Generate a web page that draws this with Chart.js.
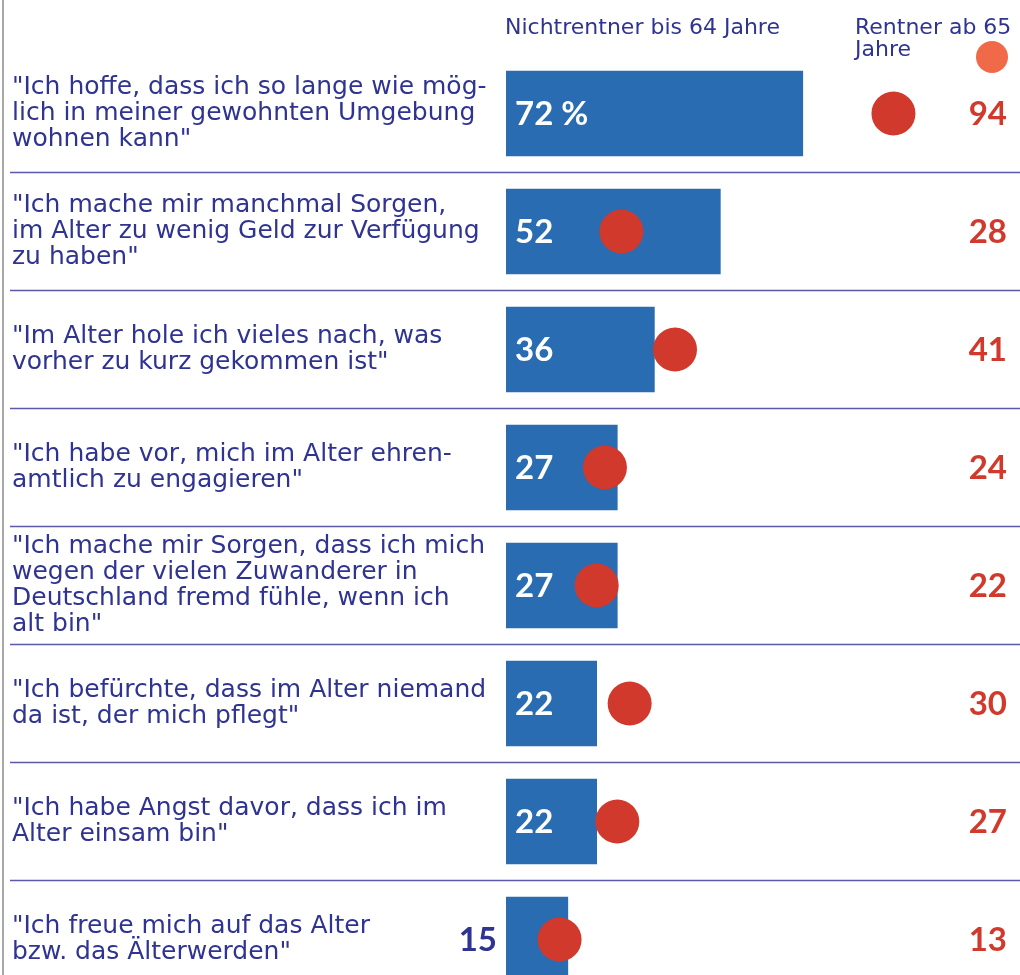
<!DOCTYPE html>
<html>
<head>
<meta charset="utf-8">
<script src="https://cdn.jsdelivr.net/npm/chart.js@4/dist/chart.umd.min.js"></script>
<style>
  html, body { margin: 0; padding: 0; background: #ffffff; overflow: hidden; }
  #wrap { width: 1020px; height: 975px; overflow: hidden; position: relative; }
  canvas { display: block; }
</style>
</head>
<body>
<div id="wrap"><canvas id="c" width="1020" height="1040"></canvas></div>
<script>
const categories = [
  ["\"Ich hoffe, dass ich so lange wie mög-", "lich in meiner gewohnten Umgebung", "wohnen kann\""],
  ["\"Ich mache mir manchmal Sorgen,", "im Alter zu wenig Geld zur Verfügung", "zu haben\""],
  ["\"Im Alter hole ich vieles nach, was", "vorher zu kurz gekommen ist\""],
  ["\"Ich habe vor, mich im Alter ehren-", "amtlich zu engagieren\""],
  ["\"Ich mache mir Sorgen, dass ich mich", "wegen der vielen Zuwanderer in", "Deutschland fremd fühle, wenn ich", "alt bin\""],
  ["\"Ich befürchte, dass im Alter niemand", "da ist, der mich pflegt\""],
  ["\"Ich habe Angst davor, dass ich im", "Alter einsam bin\""],
  ["\"Ich freue mich auf das Alter", "bzw. das Älterwerden\""]
];
const nichtrentner = [72, 52, 36, 27, 27, 22, 22, 15];
const rentner = [94, 28, 41, 24, 22, 30, 27, 13];
const seriesNames = ["Nichtrentner bis 64 Jahre", ["Rentner ab 65", "Jahre"]];
const firstSuffix = " %";

const NAVY = "#2f3391";
const BLUE = "#2a6cb1";
const RED = "#d0392c";
const SALMON = "#f06a4a";
const NUM_FONT = "bold 33px Lato";

const decor = {
  id: "decor",
  beforeDatasetsDraw(chart) {
    const ctx = chart.ctx;
    const ys = chart.scales.y;
    ctx.save();
    ctx.strokeStyle = "#a8a8a8";
    ctx.lineWidth = 2;
    ctx.beginPath();
    ctx.moveTo(3, 0); ctx.lineTo(3, 1040);
    ctx.stroke();
    ctx.strokeStyle = "#5a5aa8";
    ctx.lineWidth = 1.5;
    for (let i = 1; i < categories.length; i++) {
      const y = (ys.getPixelForValue(i - 1) + ys.getPixelForValue(i)) / 2;
      ctx.beginPath();
      ctx.moveTo(10, y); ctx.lineTo(1020, y);
      ctx.stroke();
    }
    ctx.restore();
  },
  afterDatasetsDraw(chart) {
    const ctx = chart.ctx;
    const barMeta = chart.getDatasetMeta(1);
    const xs = chart.scales.x;
    ctx.save();
    ctx.font = NUM_FONT;
    ctx.textBaseline = "middle";
    barMeta.data.forEach((bar, i) => {
      const v = nichtrentner[i];
      const txt = i === 0 ? v + firstSuffix : String(v);
      const base = xs.getPixelForValue(0);
      const w = bar.x - base;
      if (w >= 70) {
        ctx.fillStyle = "#ffffff";
        ctx.textAlign = "left";
        ctx.fillText(txt, base + 9, bar.y + 1);
      } else {
        ctx.fillStyle = NAVY;
        ctx.textAlign = "right";
        ctx.fillText(txt, base - 9, bar.y + 1);
      }
      ctx.fillStyle = RED;
      ctx.textAlign = "right";
      ctx.fillText(String(rentner[i]), 1007, bar.y + 1);
    });
    ctx.font = "22px 'DejaVu Sans'";
    ctx.fillStyle = NAVY;
    ctx.textAlign = "left";
    ctx.textBaseline = "alphabetic";
    ctx.fillText(seriesNames[0], 505, 34);
    ctx.fillText(seriesNames[1][0], 855, 34);
    ctx.fillText(seriesNames[1][1], 855, 56);
    ctx.fillStyle = SALMON;
    ctx.beginPath();
    ctx.arc(992, 57, 16, 0, Math.PI * 2);
    ctx.fill();
    ctx.restore();
  }
};

new Chart(document.getElementById("c"), {
  type: "bar",
  data: {
    labels: categories,
    datasets: [
      {
        type: "line",
        label: "Rentner ab 65 Jahre",
        data: rentner.map((v, i) => ({ x: v, y: i })),
        showLine: false,
        pointRadius: 22,
        pointHoverRadius: 22,
        pointBackgroundColor: RED,
        pointBorderWidth: 0,
        borderWidth: 0,
        clip: false,
        order: 1
      },
      {
        type: "bar",
        label: "Nichtrentner bis 64 Jahre",
        data: nichtrentner,
        backgroundColor: BLUE,
        barThickness: 85,
        order: 2
      }
    ]
  },
  options: {
    indexAxis: "y",
    responsive: false,
    animation: false,
    events: [],
    layout: { autoPadding: false, padding: { top: 54.5, bottom: 41.5, left: 12, right: 0 } },
    plugins: { legend: { display: false }, tooltip: { enabled: false } },
    scales: {
      x: { display: false, min: 0, max: 124.7 },
      y: {
        type: "category",
        offset: true,
        grid: { display: false },
        border: { display: false },
        afterFit(scale) { scale.width = 494; },
        ticks: {
          crossAlign: "far",
          padding: 0,
          color: NAVY,
          font: { family: "'DejaVu Sans'", size: 25, lineHeight: 1.04 }
        }
      }
    }
  },
  plugins: [decor]
});
</script>
</body>
</html>
